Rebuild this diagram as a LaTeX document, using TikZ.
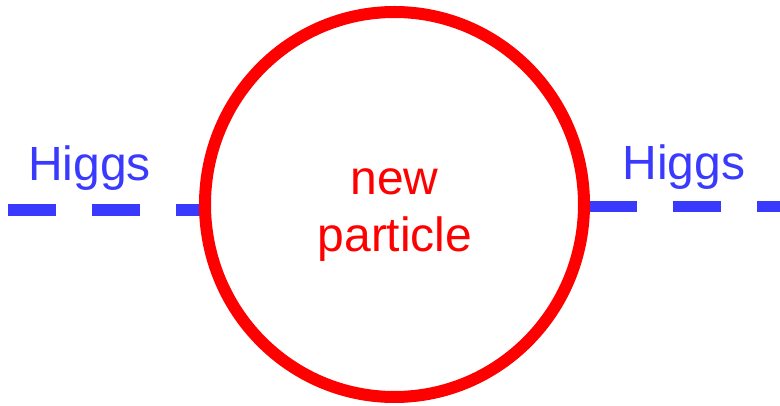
\documentclass[tikz,border=0pt]{standalone}
\usepackage{fontspec}
\setmainfont{Liberation Sans}
\definecolor{higgsblue}{RGB}{58,58,255}
\definecolor{ringred}{RGB}{255,0,0}
\begin{document}
\begin{tikzpicture}[x=1pt,y=-1pt,
  higgsline/.style={draw=higgsblue,line width=11.5pt,dash pattern=on 48pt off 36pt},
  ring/.style={draw=ringred,line width=12pt},
  higgslabel/.style={text=higgsblue,font=\fontsize{48}{57}\selectfont,anchor=base,inner sep=0pt},
  particlelabel/.style={text=ringred,font=\fontsize{48}{57}\selectfont,anchor=base,inner sep=0pt}]
  \useasboundingbox (0,0) rectangle (780,406);
  % Higgs lines
  \coordinate (l1) at (8,210);
  \coordinate (l2) at (203,210);
  \coordinate (r1) at (589,206.5);
  \coordinate (r2) at (780,206.5);
  \draw[higgsline] (l1) -- (l2);
  \draw[higgsline] (r1) -- (r2);
  % loop
  \coordinate (c) at (394.5,204.5);
  \draw[ring] (c) ellipse [x radius=189.5, y radius=192.5];
  % labels
  \node[higgslabel] (hl) at (89.5,181) {Higgs};
  \node[higgslabel] (hr) at (684,180) {Higgs};
  \node[particlelabel] (n1) at (394.5,195) {new};
  \node[particlelabel] (n2) at (395,252) {particle};
\end{tikzpicture}
\end{document}
